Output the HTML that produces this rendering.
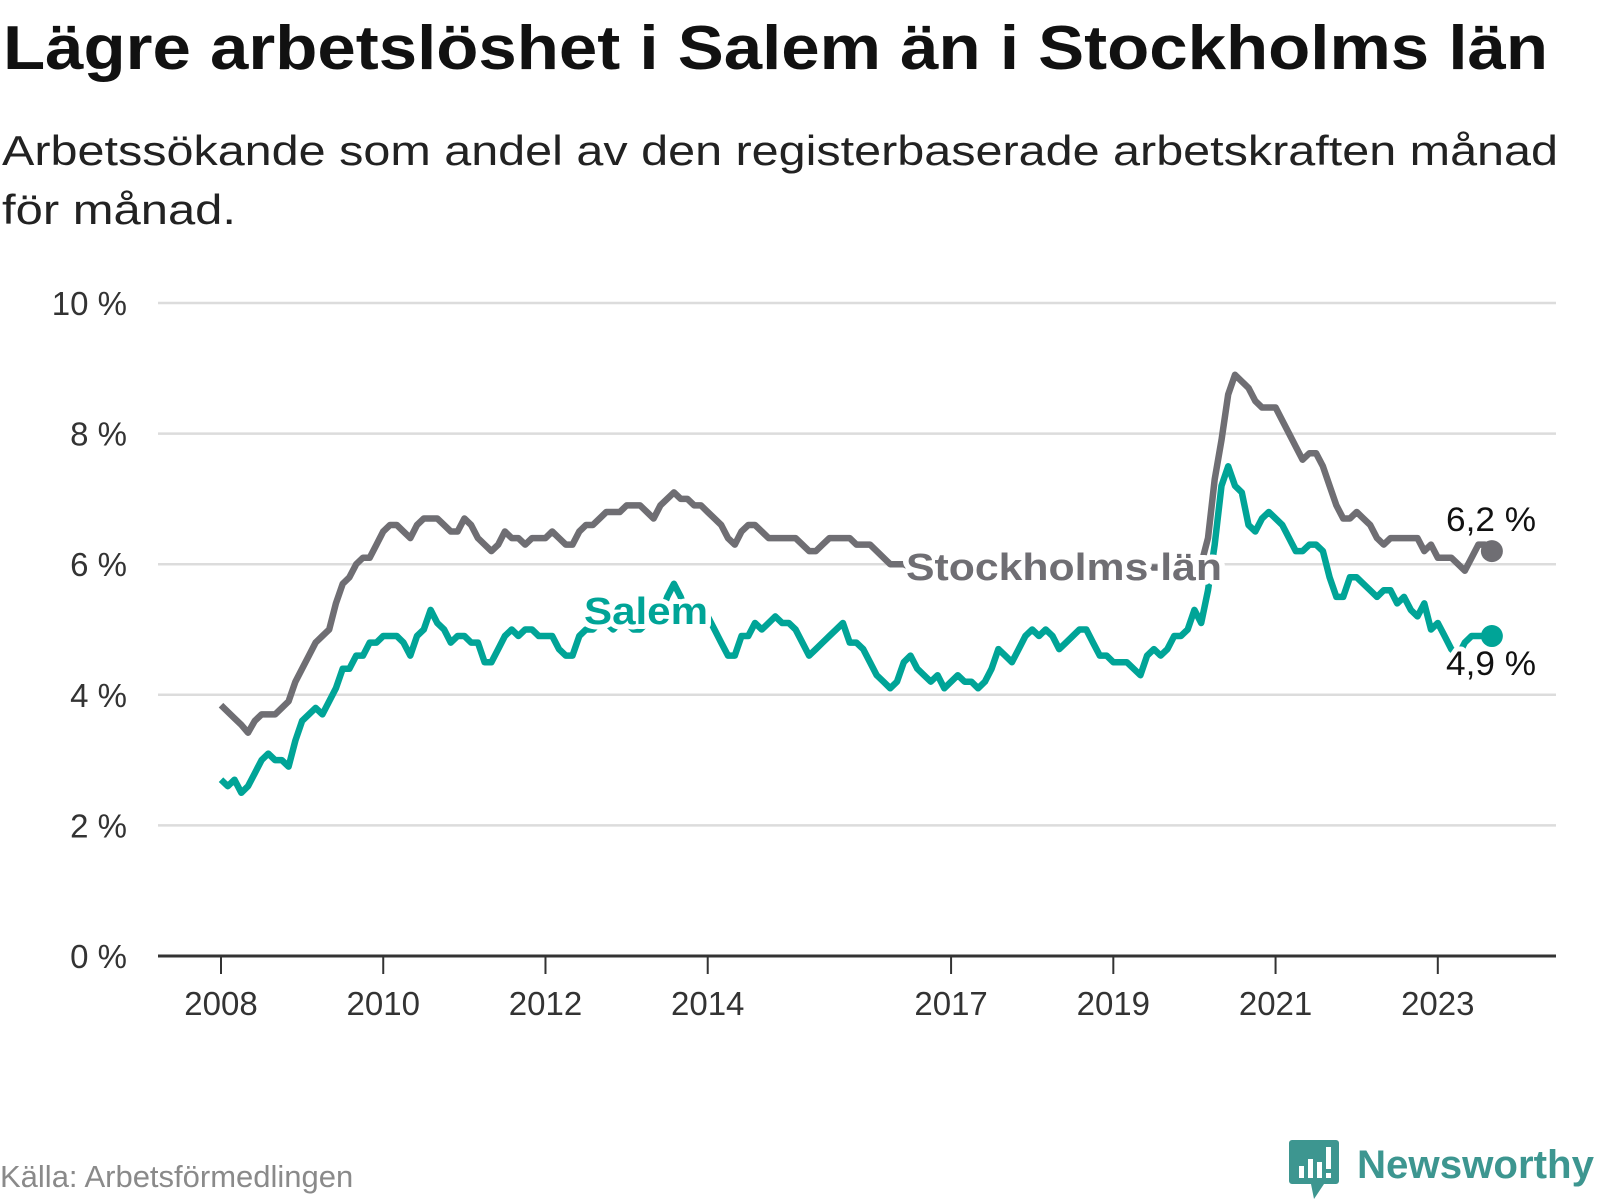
<!DOCTYPE html>
<html><head><meta charset="utf-8"><style>
html,body{margin:0;padding:0;background:#fff;}
svg{display:block;font-family:"Liberation Sans","DejaVu Sans",sans-serif;}
</style></head><body>
<svg id="chart" width="1600" height="1200" viewBox="0 0 1600 1200">
<text x="3" y="69" font-size="62" font-weight="bold" fill="#111" textLength="1545" lengthAdjust="spacingAndGlyphs">Lägre arbetslöshet i Salem än i Stockholms län</text>
<text x="2" y="165" font-size="42" fill="#222" textLength="1556" lengthAdjust="spacingAndGlyphs">Arbetssökande som andel av den registerbaserade arbetskraften månad</text>
<text x="2" y="224" font-size="42" fill="#222" textLength="234" lengthAdjust="spacingAndGlyphs">för månad.</text>
<g id="grid"></g>
<g id="yticks"></g>
<g id="xaxis"></g>
<g id="series"></g>
<g id="labels"></g>
<text x="0" y="1187" font-size="31" fill="#8a8a8a">Källa: Arbetsförmedlingen</text>
<g>
<path d="M1292 1140 h44 a3 3 0 0 1 3 3 v38 a3 3 0 0 1 -3 3 h-12 l-10 15 l-3 -15 h-19 a3 3 0 0 1 -3 -3 v-38 a3 3 0 0 1 3 -3z" fill="#3d9690"/>
<rect x="1299" y="1166" width="5" height="12" fill="#fff"/>
<rect x="1308" y="1159" width="5" height="19" fill="#fff"/>
<rect x="1317" y="1162" width="5" height="16" fill="#fff"/>
<rect x="1326" y="1147" width="5" height="22" fill="#fff"/>
<rect x="1326" y="1173" width="5" height="5" fill="#fff"/>
<text x="1357" y="1178" font-size="40" font-weight="bold" fill="#3d9690" textLength="237" lengthAdjust="spacingAndGlyphs">Newsworthy</text>
</g>
</svg>
<script>
const yTicks = [0, 2, 4, 6, 8, 10];
const xTickYears = [2008, 2010, 2012, 2014, 2017, 2019, 2021, 2023];
const startYear = 2008;
const stockholm = [3.84,3.74,3.64,3.54,3.42,3.6,3.7,3.7,3.7,3.8,3.9,4.2,4.4,4.6,4.8,4.9,5.0,5.4,5.7,5.8,6.0,6.1,6.1,6.3,6.5,6.6,6.6,6.5,6.4,6.6,6.7,6.7,6.7,6.6,6.5,6.5,6.7,6.6,6.4,6.3,6.2,6.3,6.5,6.4,6.4,6.3,6.4,6.4,6.4,6.5,6.4,6.3,6.3,6.5,6.6,6.6,6.7,6.8,6.8,6.8,6.9,6.9,6.9,6.8,6.7,6.9,7.0,7.1,7.0,7.0,6.9,6.9,6.8,6.7,6.6,6.4,6.3,6.5,6.6,6.6,6.5,6.4,6.4,6.4,6.4,6.4,6.3,6.2,6.2,6.3,6.4,6.4,6.4,6.4,6.3,6.3,6.3,6.2,6.1,6.0,6.0,6.0,5.95,5.95,6.0,6.0,6.0,5.95,5.95,6.0,6.0,5.95,5.95,6.0,6.0,5.95,5.95,5.9,5.9,5.95,5.95,5.9,5.9,5.9,5.85,5.85,5.85,5.9,5.9,5.85,5.85,5.85,5.85,5.9,5.9,5.9,5.9,5.95,5.95,5.95,5.95,5.95,5.95,6.0,6.0,6.0,6.4,7.3,7.9,8.6,8.9,8.8,8.7,8.5,8.4,8.4,8.4,8.2,8.0,7.8,7.6,7.7,7.7,7.5,7.2,6.9,6.7,6.7,6.8,6.7,6.6,6.4,6.3,6.4,6.4,6.4,6.4,6.4,6.2,6.3,6.1,6.1,6.1,6.0,5.9,6.1,6.3,6.3,6.2];
const salem = [2.7,2.6,2.7,2.5,2.6,2.8,3.0,3.1,3.0,3.0,2.9,3.3,3.6,3.7,3.8,3.7,3.9,4.1,4.4,4.4,4.6,4.6,4.8,4.8,4.9,4.9,4.9,4.8,4.6,4.9,5.0,5.3,5.1,5.0,4.8,4.9,4.9,4.8,4.8,4.5,4.5,4.7,4.9,5.0,4.9,5.0,5.0,4.9,4.9,4.9,4.7,4.6,4.6,4.9,5.0,5.0,5.1,5.1,5.0,5.1,5.1,5.0,5.0,5.1,5.1,5.2,5.5,5.7,5.5,5.2,5.2,5.2,5.2,5.0,4.8,4.6,4.6,4.9,4.9,5.1,5.0,5.1,5.2,5.1,5.1,5.0,4.8,4.6,4.7,4.8,4.9,5.0,5.1,4.8,4.8,4.7,4.5,4.3,4.2,4.1,4.2,4.5,4.6,4.4,4.3,4.2,4.3,4.1,4.2,4.3,4.2,4.2,4.1,4.2,4.4,4.7,4.6,4.5,4.7,4.9,5.0,4.9,5.0,4.9,4.7,4.8,4.9,5.0,5.0,4.8,4.6,4.6,4.5,4.5,4.5,4.4,4.3,4.6,4.7,4.6,4.7,4.9,4.9,5.0,5.3,5.1,5.6,6.3,7.2,7.5,7.2,7.1,6.6,6.5,6.7,6.8,6.7,6.6,6.4,6.2,6.2,6.3,6.3,6.2,5.8,5.5,5.5,5.8,5.8,5.7,5.6,5.5,5.6,5.6,5.4,5.5,5.3,5.2,5.4,5.0,5.1,4.9,4.7,4.6,4.8,4.9,4.9,4.9,4.9];
const seriesNames = ["Stockholms län", "Salem"];

const NS = "http://www.w3.org/2000/svg";
const X0 = 221, PX_PER_MONTH = 6.76, Y0 = 956, PX_PER_PCT = 65.3;
const xScale = m => X0 + m * PX_PER_MONTH;
const yScale = v => Y0 - v * PX_PER_PCT;
function mk(tag, attrs, parent) {
  const el = document.createElementNS(NS, tag);
  for (const k in attrs) el.setAttribute(k, attrs[k]);
  parent.appendChild(el);
  return el;
}
const grid = document.getElementById('grid');
const yticks = document.getElementById('yticks');
yTicks.forEach(t => {
  if (t > 0) {
    const l = mk('line', {x1: 158, x2: 1556, y1: yScale(t), y2: yScale(t), stroke: '#dcdcdc', 'stroke-width': 2.5}, grid);
    
    
  }
  const tx = mk('text', {x: 127, y: yScale(t) + 12, 'text-anchor': 'end', 'font-size': 33, fill: '#333'}, yticks);
  tx.textContent = t + ' %';
  
  
});
const xaxis = document.getElementById('xaxis');
const axl = mk('line', {x1: 158, x2: 1556, y1: Y0, y2: Y0, stroke: '#333', 'stroke-width': 3}, xaxis);


xTickYears.forEach(yr => {
  const x = xScale((yr - startYear) * 12);
  const tk = mk('line', {x1: x, x2: x, y1: Y0, y2: Y0 + 18, stroke: '#333', 'stroke-width': 2}, xaxis);
  
  
  const tx = mk('text', {x: x, y: 1015, 'text-anchor': 'middle', 'font-size': 33, fill: '#333'}, xaxis);
  tx.textContent = yr;
  
  
});
const series = document.getElementById('series');
function drawLine(data, color, name) {
  const d = data.map((v, i) => (i ? 'L' : 'M') + xScale(i).toFixed(1) + ' ' + yScale(v).toFixed(1)).join(' ');
  const p = mk('path', {d: d, fill: 'none', stroke: color, 'stroke-width': 6.5, 'stroke-linejoin': 'round'}, series);
  
  
  const n = data.length - 1;
  const c = mk('circle', {cx: xScale(n), cy: yScale(data[n]), r: 11, fill: color}, series);
  
  
}
drawLine(stockholm, '#6f6e73', 'stockholm');
drawLine(salem, '#00a497', 'salem');
const labels = document.getElementById('labels');
function lbl(txt, x, y, opts, name) {
  const t = mk('text', Object.assign({x: x, y: y, stroke: '#fff', 'stroke-width': 10, 'paint-order': 'stroke', 'stroke-linejoin': 'round'}, opts), labels);
  t.textContent = txt;
  
  
}
lbl(seriesNames[0], 906, 580, {'font-size': 38, 'font-weight': 'bold', fill: '#6f6e73', textLength: 316, lengthAdjust: 'spacingAndGlyphs'}, 'stockholm-label');
lbl(seriesNames[1], 584, 624, {'font-size': 38, 'font-weight': 'bold', fill: '#00a497', textLength: 124, lengthAdjust: 'spacingAndGlyphs'}, 'salem-label');
const last = stockholm.length - 1;
lbl(stockholm[last].toFixed(1).replace('.', ',') + ' %', 1446, 531, {'font-size': 34, fill: '#111', textLength: 90, lengthAdjust: 'spacingAndGlyphs'}, 'stockholm-end-value');
lbl(salem[last].toFixed(1).replace('.', ',') + ' %', 1446, 675, {'font-size': 34, fill: '#111', textLength: 90, lengthAdjust: 'spacingAndGlyphs'}, 'salem-end-value');
</script>
</body></html>
